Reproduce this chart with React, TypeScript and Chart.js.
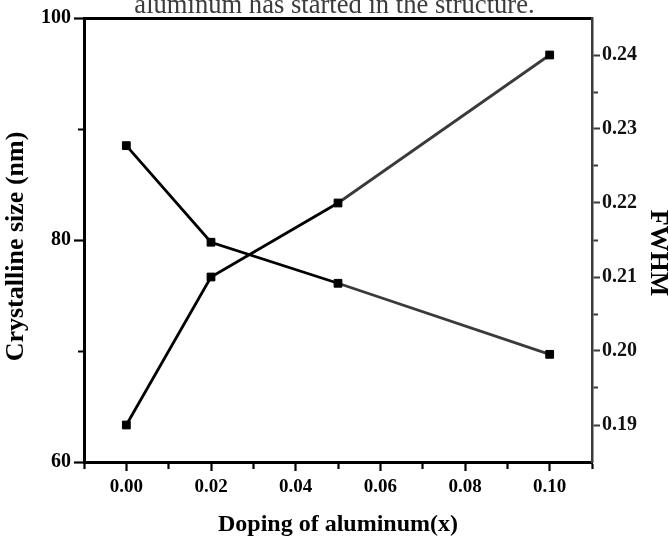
import React, { useEffect, useRef } from 'react';
import { Chart, registerables } from 'chart.js';

Chart.register(...registerables);

// ---- data ----
const dopingX = [0, 0.02, 0.05, 0.1];
const crystallineSize = [88.5, 79.8, 76.1, 69.7];
const fwhm = [0.19, 0.21, 0.22, 0.24];

const captionText = 'aluminum has started in the structure.';
const xTitle = 'Doping of aluminum(x)';
const yTitle = 'Crystalline size (nm)';
const y1Title = 'FWHM';

const FONT = '"Liberation Serif", "Times New Roman", serif';

const isMajorX = (v: number) => {
  const n = Math.round(v * 100);
  return Math.abs(v * 100 - n) < 1e-6 && n >= 0 && n <= 10 && n % 2 === 0;
};
const isMajorF = (v: number) => {
  const n = Math.round(v * 100);
  return Math.abs(v * 100 - n) < 1e-6;
};
const inRangeF = (v: number) => v > 0.1875 && v < 0.2425;

export default function App() {
  const ref = useRef<HTMLCanvasElement | null>(null);

  useEffect(() => {
    if (!ref.current) return;
    const segColor = (ctx: any) => (ctx.p0DataIndex >= 2 ? '#3a3a3a' : '#000');

    const chart = new Chart(ref.current, {
      type: 'line',
      data: {
        datasets: [
          {
            label: yTitle,
            data: dopingX.map((x, i) => ({ x, y: crystallineSize[i] })),
            xAxisID: 'x',
            yAxisID: 'y',
            borderColor: '#000',
            borderWidth: 2.8,
            pointStyle: 'rect',
            pointRadius: 5.5,
            pointBackgroundColor: '#000',
            pointBorderColor: '#000',
            pointBorderWidth: 1,
            tension: 0,
            segment: { borderColor: segColor },
          },
          {
            label: y1Title,
            data: dopingX.map((x, i) => ({ x, y: fwhm[i] })),
            xAxisID: 'x',
            yAxisID: 'y1',
            borderColor: '#000',
            borderWidth: 2.8,
            pointStyle: 'rect',
            pointRadius: 5.5,
            pointBackgroundColor: '#000',
            pointBorderColor: '#000',
            pointBorderWidth: 1,
            tension: 0,
            segment: { borderColor: segColor },
          },
        ],
      },
      options: {
        animation: false,
        responsive: false,
        devicePixelRatio: 1,
        layout: { padding: 0 },
        plugins: {
          legend: { display: false },
          tooltip: { enabled: false },
          title: {
            display: true,
            text: captionText,
            color: '#3c3c3c',
            font: { family: FONT, size: 26.6, weight: 'normal', lineHeight: '13px' },
            padding: { top: 0, bottom: 5 },
          },
        },
        scales: {
          x: {
            type: 'linear',
            position: 'bottom',
            min: -0.01,
            max: 0.11,
            afterFit: (s: any) => {
              s.height = 76;
            },
            border: { display: true, color: '#000', width: 3 },
            grid: {
              display: true,
              drawOnChartArea: false,
              drawTicks: true,
              tickLength: 9,
              tickColor: '#000',
              tickWidth: 2.2,
              tickBorderDash: (c: any) => (isMajorX(c.tick.value) ? [] : [5, 50]),
            },
            ticks: {
              stepSize: 0.01,
              autoSkip: false,
              maxRotation: 0,
              minRotation: 0,
              padding: 5,
              color: '#000',
              font: { family: FONT, size: 19, weight: 'bold' },
              callback: (v: any) => (isMajorX(Number(v)) ? Number(v).toFixed(2) : ''),
            },
            title: {
              display: true,
              text: xTitle,
              color: '#000',
              font: { family: FONT, size: 24, weight: 'bold', lineHeight: '26px' },
              padding: { top: 0, bottom: 0 },
            },
          },
          x2: {
            type: 'linear',
            position: 'top',
            min: -0.01,
            max: 0.11,
            afterFit: (s: any) => {
              s.height = 0;
            },
            border: { display: true, color: '#000', width: 3 },
            grid: { display: false },
            ticks: { display: false },
          },
          y: {
            type: 'linear',
            position: 'left',
            min: 60,
            max: 100,
            afterFit: (s: any) => {
              s.width = 84;
            },
            border: { display: true, color: '#000', width: 3 },
            grid: {
              display: true,
              drawOnChartArea: false,
              drawTicks: true,
              tickLength: 10,
              tickColor: '#000',
              tickWidth: 2.2,
              tickBorderDash: (c: any) => (Number(c.tick.value) % 20 === 0 ? [] : [0, 4, 6, 50]),
            },
            ticks: {
              stepSize: 10,
              padding: 3,
              color: '#000',
              font: { family: FONT, size: 20, weight: 'bold' },
              callback: (v: any) => (Number(v) % 20 === 0 ? String(v) : ''),
            },
            title: {
              display: true,
              text: yTitle + '  ',
              color: '#000',
              font: { family: FONT, size: 26, weight: 'bold' },
              padding: { top: 1, bottom: 0 },
            },
          },
          y1: {
            type: 'linear',
            position: 'right',
            min: 0.185,
            max: 0.245,
            afterFit: (s: any) => {
              s.width = 77;
            },
            border: { display: true, color: '#3a3a3a', width: 2.5 },
            grid: {
              display: true,
              drawOnChartArea: false,
              drawTicks: true,
              tickLength: 8,
              tickColor: (c: any) => (inRangeF(Number(c.tick.value)) ? '#3a3a3a' : 'rgba(0,0,0,0)'),
              tickWidth: 2,
              tickBorderDash: (c: any) => (isMajorF(Number(c.tick.value)) ? [] : [4.5, 50]),
            },
            ticks: {
              stepSize: 0.005,
              autoSkip: false,
              padding: 2,
              color: '#111',
              font: { family: FONT, size: 20, weight: 'bold' },
              callback: (v: any) =>
                isMajorF(Number(v)) && inRangeF(Number(v)) ? Number(v).toFixed(2) : '',
            },
            title: {
              display: true,
              text: '    ' + y1Title,
              color: '#000',
              font: { family: FONT, size: 26, weight: 'bold', lineHeight: '23px' },
              padding: { top: 0, bottom: 0 },
            },
          },
        },
      },
    } as any);

    return () => {
      chart.destroy();
    };
  }, []);

  return (
    <canvas
      ref={ref}
      width={669}
      height={538}
      style={{ position: 'absolute', left: 0, top: 0, width: 669, height: 538, display: 'block' }}
    />
  );
}
